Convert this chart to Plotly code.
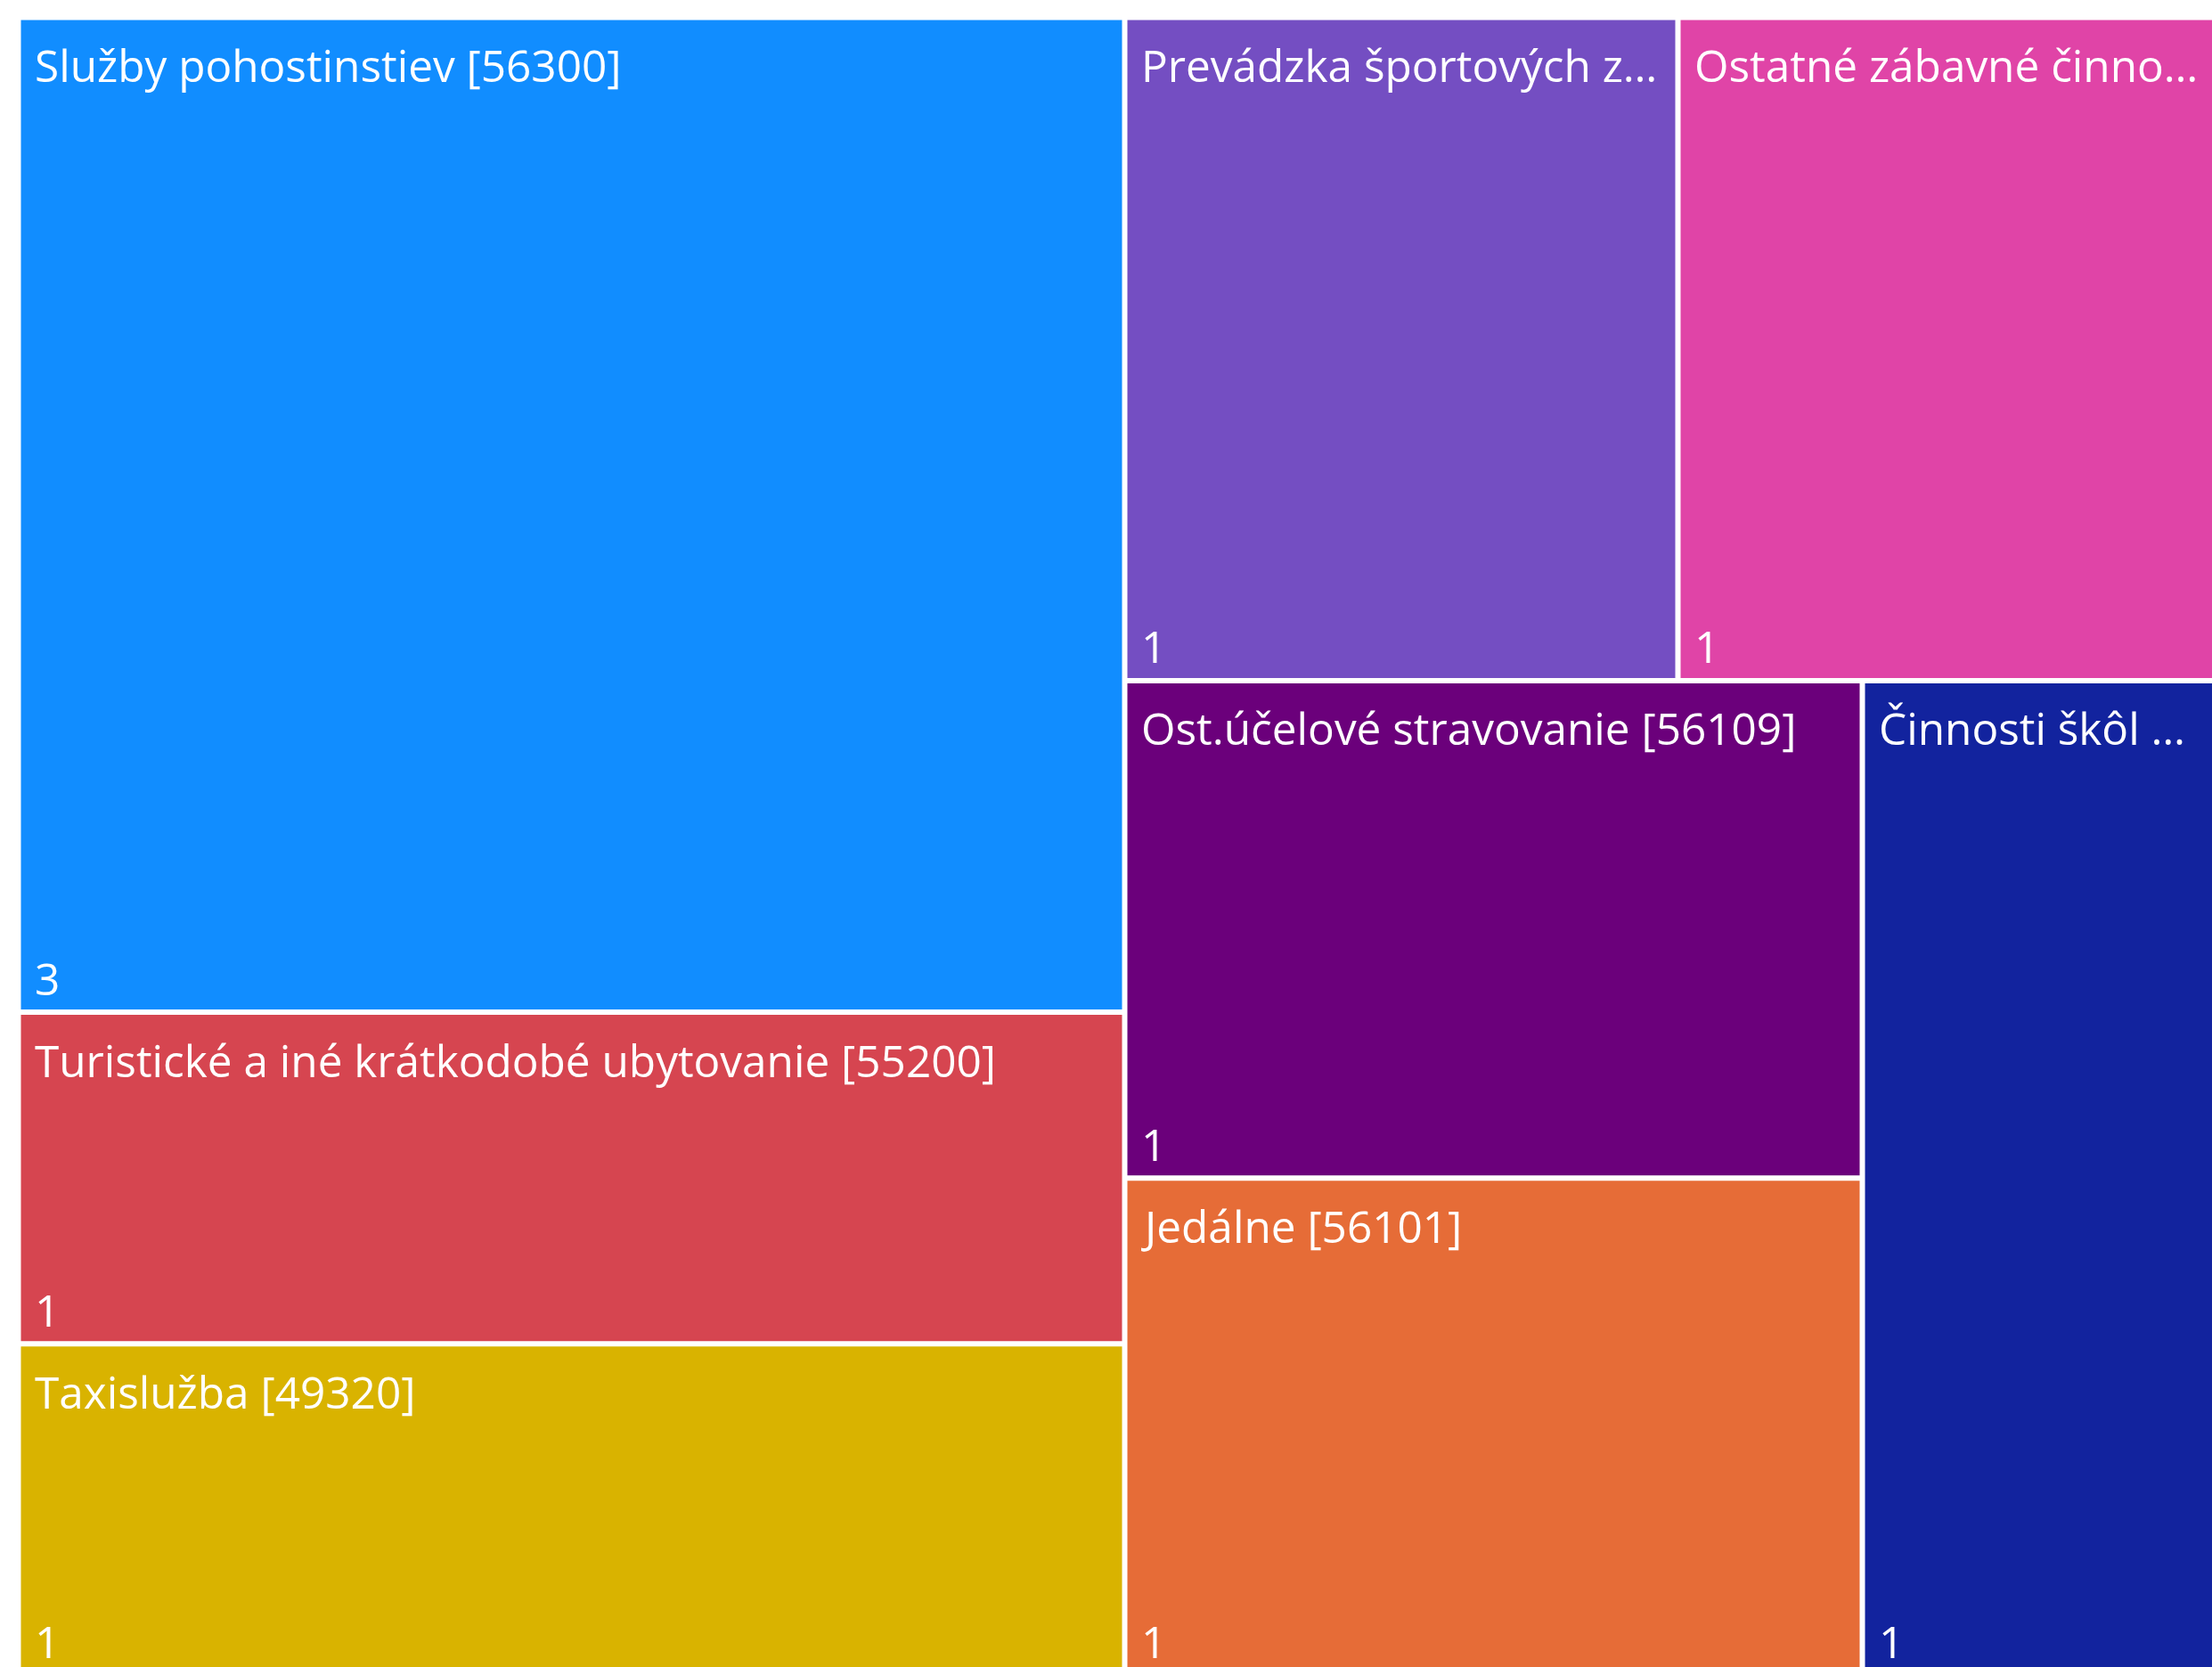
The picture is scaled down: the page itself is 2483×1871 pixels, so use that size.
import plotly.graph_objects as go

# Activities (display names) and their counts
labels = [
    "Služby pohostinstiev [56300]",
    "Turistické a iné krátkodobé ubytovanie [55200]",
    "Taxislužba [49320]",
    "Prevádzka športových z…",
    "Ostatné zábavné činno…",
    "Ost.účelové stravovanie [56109]",
    "Jedálne [56101]",
    "Činnosti škôl …",
]
parents = [""] * len(labels)
values = [3, 1, 1, 1, 1, 1, 1, 1]
colors = ["#118DFF", "#D64550", "#D9B300", "#744EC2",
          "#E044A7", "#6B007B", "#E66C37", "#12239E"]

FONT = "Open Sans"
FONT_SIZE = 49.5

# Page geometry (px); the canvas runs a little past the visible window
FIG_W, FIG_H = 2540, 1910
X0, X1 = 22, 2503      # treemap left / right edge
Y0, Y1 = 21, 1879      # treemap top / bottom edge


def domain(dx=0, dy=0):
    """Domain of a treemap placed at the box above, shifted by (dx, dy) px."""
    return dict(
        x=[(X0 + dx) / FIG_W, (X1 + dx) / FIG_W],
        y=[(FIG_H - Y1 - dy) / FIG_H, (FIG_H - Y0 - dy) / FIG_H],
    )


common = dict(
    labels=labels, parents=parents, values=values, sort=True,
    tiling=dict(packing="squarify", squarifyratio=1.618, pad=3),
    pathbar=dict(visible=False),
    hoverinfo="skip",
)
clear = ["rgba(0,0,0,0)"] * len(labels)
nopad = dict(t=0, l=0, r=0, b=0)

fig = go.Figure()
# Coloured tiles
fig.add_trace(go.Treemap(
    **common, domain=domain(),
    marker=dict(colors=colors, line=dict(color="white", width=3), pad=nopad),
    textinfo="none",
))
# Category names, inset from the top-left corner of each tile
fig.add_trace(go.Treemap(
    **common, domain=domain(14, 15),
    marker=dict(colors=clear, line=dict(width=0), pad=nopad),
    textinfo="label", textposition="top left",
    textfont=dict(family=FONT, size=FONT_SIZE, color="white"),
))
# Counts, inset from the bottom-left corner of each tile
fig.add_trace(go.Treemap(
    **common, domain=domain(14, 0),
    marker=dict(colors=clear, line=dict(width=0), pad=nopad),
    textinfo="value", textposition="bottom left",
    textfont=dict(family=FONT, size=FONT_SIZE, color="white"),
))

fig.update_layout(
    width=FIG_W, height=FIG_H,
    margin=dict(l=0, r=0, t=0, b=0),
    paper_bgcolor="white", plot_bgcolor="white",
    showlegend=False,
)

fig.write_html(
    "out.html",
    post_script="document.documentElement.style.overflow='hidden';"
                "document.body.style.overflow='hidden';document.body.style.margin='0';",
)
